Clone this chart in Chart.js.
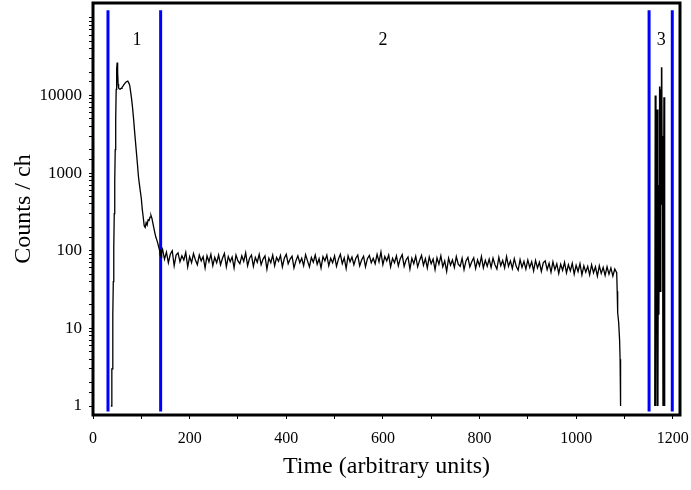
<!DOCTYPE html>
<html>
<head>
<meta charset="utf-8">
<script src="https://cdn.jsdelivr.net/npm/chart.js@4.4.1/dist/chart.umd.min.js"></script>
<style>
  html, body { margin: 0; padding: 0; background: #fff; }
  #wrap { width: 691px; height: 490px; }
</style>
</head>
<body>
<div id="wrap"><canvas id="spectrum"></canvas></div>
<script>
// Region 1: rise, main peak and shoulder (channel, counts)
const peakX = [37, 38, 39, 40, 41, 42, 43, 44, 45, 46, 47, 48, 49, 50, 51, 52, 53, 54,
  56, 58, 60, 62, 64, 66, 68, 70, 72, 74, 76, 78, 80, 82, 84, 86, 88, 90, 92, 94, 96, 98,
  100, 102, 104, 106, 108, 110, 112, 114, 116, 118, 120, 122, 124, 126, 128, 130, 132, 134,
  136, 138, 139, 140, 141, 142];
const peakY = [1, 1, 3, 3, 15, 40, 110, 300, 800, 2000, 5000, 12000, 22000, 26500, 20000, 14000, 12500, 12200,
  12000, 12300, 12700, 13200, 13800, 14300, 14800, 15100, 15300, 14500, 13500, 11000, 8900, 6800, 5000, 3500,
  2500, 1800, 1300, 910, 720, 580, 470, 340, 270, 210, 200, 230, 215, 250, 245, 270, 285, 260, 225, 195,
  170, 150, 138, 125, 112, 100, 88, 104, 82, 95];

// Region 2: flat part, one reading every 4 channels from channel 144
const flatStart = 144;
const flatStep = 4;
const flatY = [
  104, 78, 96, 70, 90, 100, 64, 88, 94, 72,
  86, 76, 95, 62, 84, 70, 92, 76, 66, 88,
  74, 84, 60, 86, 72, 90, 64, 82, 70, 88,
  66, 80, 92, 62, 84, 72, 83, 60, 88, 74,
  68, 86, 73, 94, 64, 80, 88, 63, 82, 71,
  90, 66, 78, 86, 58, 80, 70, 88, 64, 82,
  73, 87, 62, 80, 90, 68, 78, 85, 60, 74,
  86, 70, 80, 64, 89, 74, 62, 82, 71, 88,
  67, 79, 60, 84, 74, 88, 64, 80, 70, 86,
  63, 78, 90, 68, 81, 59, 86, 72, 83, 66,
  80, 88, 64, 76, 85, 62, 79, 87, 70, 80,
  68, 90, 72, 96, 66, 84, 74, 88, 62, 80,
  70, 86, 64, 79, 89, 63, 76, 83, 58, 80,
  68, 85, 62, 75, 87, 65, 79, 60, 83, 68,
  78, 57, 81, 67, 86, 62, 74, 54, 80, 65,
  76, 61, 84, 67, 63, 80, 57, 74, 82, 62,
  72, 81, 59, 76, 64, 84, 60, 75, 63, 78,
  61, 80, 66, 58, 82, 64, 75, 60, 84, 63,
  74, 59, 79, 63, 56, 77, 61, 73, 58, 76,
  61, 72, 55, 75, 60, 71, 54, 70, 74, 57,
  69, 53, 72, 57, 68, 51, 67, 56, 71, 52,
  66, 55, 69, 50, 65, 54, 68, 49, 64, 53,
  63, 49, 66, 52, 62, 47, 64, 51, 61, 48,
  62, 50, 60, 47, 58, 52
];

// falling edge at the end of region 2
const tailX = [1085, 1086, 1088, 1090, 1091, 1092];
const tailY = [30, 16, 12, 7, 4, 1];

// Region 3: spikes
const burstX = [1163, 1164, 1165, 1166, 1167, 1168, 1169, 1170, 1171, 1172, 1173,
  1174, 1175, 1176, 1177, 1178, 1179, 1180, 1181, 1182, 1183];
const burstY = [1, 10000, 1, 300, 20, 6600, 1, 700, 15, 500, 13000,
  30, 12000, 900, 23000, 400, 3000, 1, 1, 9500, 1];

// region borders (blue lines) and region names
const regionEdges = [31, 140, 1151, 1199];
const edgeSpan = [0.85, 125000];
const regionNames = ['1', '2', '3'];
const regionNameX = [91, 600, 1176];
const regionNameY = 52000;

const yLabelValues = [1, 10, 100, 1000, 10000];

// build the point lists
const mainLine = [];
peakX.forEach((x, i) => mainLine.push({ x: x, y: peakY[i] }));
flatY.forEach((y, i) => mainLine.push({ x: flatStart + i * flatStep, y: y }));
tailX.forEach((x, i) => mainLine.push({ x: x, y: tailY[i] }));

const burstLine = burstX.map((x, i) => ({ x: x, y: burstY[i] }));

const edgeSets = regionEdges.map(x => ({
  data: [{ x: x, y: edgeSpan[0] }, { x: x, y: edgeSpan[1] }],
  borderColor: '#0000ff',
  borderWidth: 3,
  pointRadius: 0
}));

const serif = 'Liberation Serif, Times New Roman, serif';

// frame round the plot and the region numbers
const framePlugin = {
  id: 'frame',
  afterDatasetsDraw(chart) {
    const ctx = chart.ctx;
    const xs = chart.scales.x, ys = chart.scales.y;
    ctx.save();
    ctx.fillStyle = '#000';
    ctx.font = '18px ' + serif;
    ctx.textAlign = 'center';
    ctx.textBaseline = 'middle';
    regionNames.forEach((t, i) => {
      ctx.fillText(t, xs.getPixelForValue(regionNameX[i]), ys.getPixelForValue(regionNameY));
    });
    ctx.restore();
  },
  afterDraw(chart) {
    const a = chart.chartArea;
    const ctx = chart.ctx;
    ctx.save();
    ctx.strokeStyle = '#000';
    ctx.lineWidth = 3;
    ctx.strokeRect(a.left, a.top, a.right - a.left, a.bottom - a.top);
    ctx.restore();
  }
};

const ctx = document.getElementById('spectrum').getContext('2d');
new Chart(ctx, {
  type: 'line',
  data: {
    datasets: [
      { data: mainLine, borderColor: '#000', borderWidth: 1.3, pointRadius: 0 },
      { data: burstLine, borderColor: '#000', borderWidth: 1.6, pointRadius: 0 }
    ].concat(edgeSets)
  },
  options: {
    responsive: true,
    maintainAspectRatio: false,
    animation: false,
    layout: { padding: { top: 3, right: 11, left: 0, bottom: 0 } },
    elements: { line: { tension: 0 } },
    plugins: {
      legend: { display: false },
      tooltip: { enabled: false }
    },
    scales: {
      x: {
        type: 'linear',
        min: 0,
        max: 1215,
        afterFit: s => {
          s.height = 75;
          s.paddingLeft = 0;
          s.paddingRight = 0;
        },
        grid: { drawOnChartArea: false, drawTicks: true, tickLength: 4, color: '#000' },
        border: { display: false },
        ticks: {
          stepSize: 100,
          includeBounds: false,
          autoSkip: false,
          maxRotation: 0,
          padding: 10,
          color: '#000',
          font: { family: serif, size: 16 },
          callback: v => (v % 200 === 0 ? String(v) : '')
        },
        title: {
          display: true,
          text: 'Time (arbitrary units)',
          color: '#000',
          font: { family: serif, size: 24 },
          padding: { top: 0, bottom: 9 }
        }
      },
      y: {
        type: 'logarithmic',
        min: 0.766,
        max: 155000,
        afterFit: s => {
          s.width = 93;
          s.paddingTop = 0;
          s.paddingBottom = 0;
        },
        afterBuildTicks: s => {
          s.ticks = s.ticks.filter(t => t.value >= 1 && t.value <= 100000);
        },
        grid: { drawOnChartArea: false, drawTicks: true, tickLength: 4, color: '#000' },
        border: { display: false },
        ticks: {
          autoSkip: false,
          padding: 7,
          color: '#000',
          font: { family: serif, size: 17 },
          callback: v => (yLabelValues.includes(v) ? String(v) : '')
        },
        title: {
          display: true,
          text: 'Counts / ch',
          color: '#000',
          font: { family: serif, size: 24 },
          padding: { top: 9, bottom: 0 }
        }
      }
    }
  },
  plugins: [framePlugin]
});
</script>
</body>
</html>
